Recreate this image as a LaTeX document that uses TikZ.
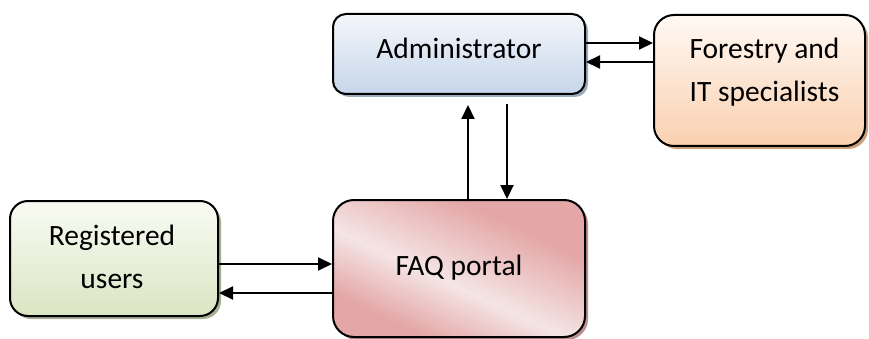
\documentclass[tikz,border=0pt]{standalone}
\usepackage{fontspec}
\setmainfont{Carlito}
\usetikzlibrary{arrows.meta,shadows}

\definecolor{admtop}{HTML}{F4F7FB}
\definecolor{admbot}{HTML}{C6D6EA}
\definecolor{admshd}{HTML}{9AAABF}
\definecolor{fsttop}{HTML}{FFF9F4}
\definecolor{fstbot}{HTML}{FAD0B0}
\definecolor{fstshd}{HTML}{C9A07A}
\definecolor{regtop}{HTML}{F9FBF4}
\definecolor{regbot}{HTML}{DAE5C3}
\definecolor{regshd}{HTML}{A8AE92}
\definecolor{faqdark}{HTML}{E4A6A6}
\definecolor{faqlight}{HTML}{F5E5E5}
\definecolor{faqshd}{HTML}{B89090}

% diagonal pink band shading for the portal box
\pgfdeclarehorizontalshading{faqshade}{100bp}{color(0bp)=(faqdark); color(28bp)=(faqdark); color(45bp)=(faqlight); color(68bp)=(faqdark); color(100bp)=(faqdark)}

\begin{document}
\begin{tikzpicture}[x=1pt,y=-1pt,
  box/.style={draw=black, line width=2pt, inner sep=0pt},
  shd/.style={drop shadow={shadow xshift=3pt, shadow yshift=-3pt, fill=#1, opacity=1}},
  lbl/.style={font=\fontsize{29.5}{43}\selectfont, align=center, inner sep=0pt},
  arr/.style={-{Triangle[length=14pt,width=13pt]}, line width=2.1pt},
]
\useasboundingbox (0,0) rectangle (869,339);

% boxes
\node[box, rounded corners=13pt, minimum width=252pt, minimum height=80pt,
      top color=admtop, bottom color=admbot, shd=admshd] (adm) at (459,54) {};
\node[box, rounded corners=20pt, minimum width=211pt, minimum height=131pt,
      top color=fsttop, bottom color=fstbot, shd=fstshd] (fst) at (759.5,80.5) {};
\node[box, rounded corners=18pt, minimum width=208pt, minimum height=115pt,
      top color=regtop, bottom color=regbot, shd=regshd] (reg) at (114,258.5) {};
\node[box, rounded corners=21pt, minimum width=252pt, minimum height=137pt,
      shading=faqshade, shading angle=65, shd=faqshd] (faq) at (459,268.5) {};

% labels
\node[lbl] (admtxt) at ([yshift=6pt]adm.center) {Administrator};
\node[lbl] (fsttxt) at ([xshift=5pt,yshift=8pt]fst.center) {Forestry and\\IT specialists};
\node[lbl] (regtxt) at ([xshift=-2pt,yshift=2pt]reg.center) {Registered\\users};
\node[lbl] (faqtxt) at ([yshift=1pt]faq.center) {FAQ portal};

% connectors
\draw[arr] ([yshift=11pt]adm.east) -- ([yshift=11pt]adm.east -| fst.west);
\draw[arr] ([yshift=-8pt]adm.east -| fst.west) -- ([yshift=-8pt]adm.east);
\draw[arr, shorten >=10pt] ([xshift=9pt]faq.north) -- ([xshift=9pt]adm.south);
\draw[arr, shorten <=9pt] ([xshift=48pt]adm.south) -- ([xshift=48pt]faq.north);
\draw[arr] ([yshift=-5.5pt]reg.east) -- ([yshift=-5.5pt]reg.east -| faq.west);
\draw[arr] ([yshift=-34.5pt]reg.east -| faq.west) -- ([yshift=-34.5pt]reg.east);
\end{tikzpicture}
\end{document}
